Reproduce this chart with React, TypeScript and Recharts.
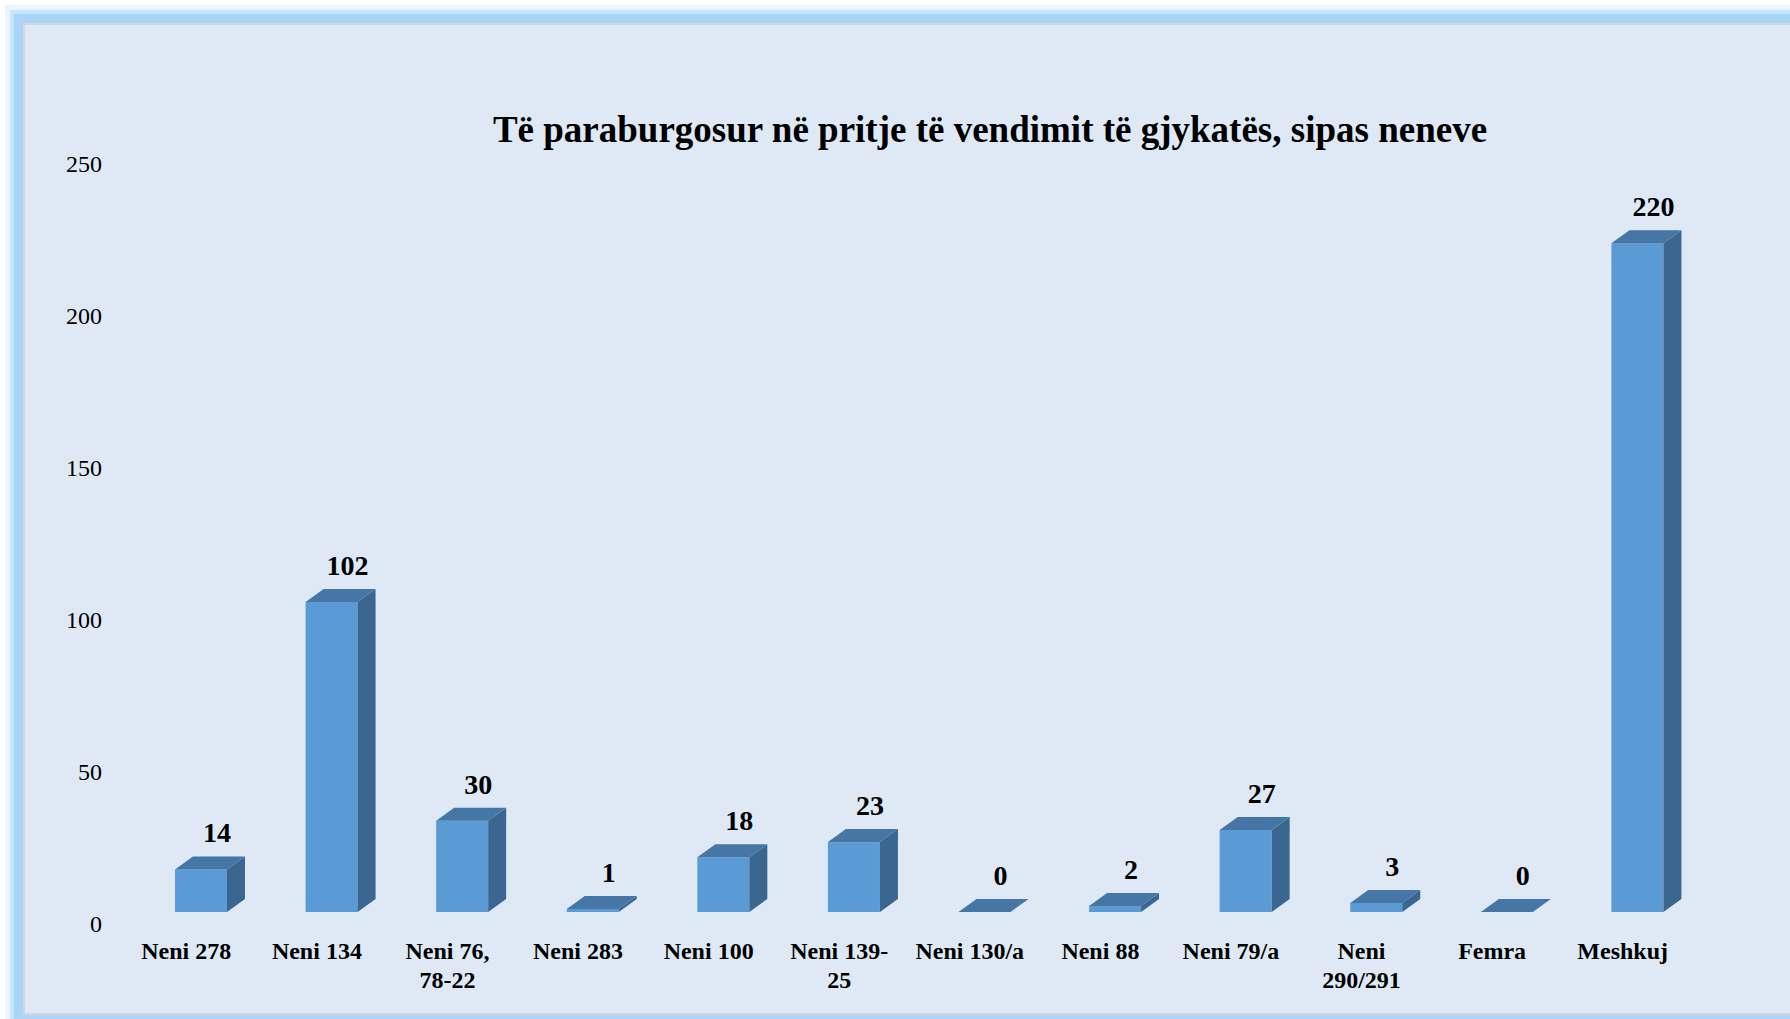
import React from 'react'
import { BarChart, Bar, XAxis, YAxis, LabelList } from 'recharts'

const categories = [
  'Neni 278',
  'Neni 134',
  'Neni 76,\n78-22',
  'Neni 283',
  'Neni 100',
  'Neni 139-\n25',
  'Neni 130/a',
  'Neni 88',
  'Neni 79/a',
  'Neni\n290/291',
  'Femra',
  'Meshkuj',
]
const values = [14, 102, 30, 1, 18, 23, 0, 2, 27, 3, 0, 220]
const yTicks = [0, 50, 100, 150, 200, 250]

const title = 'Të paraburgosur në pritje të vendimit të gjykatës, sipas neneve'

const data = categories.map((name, i) => ({ name, value: values[i] }))

const FONT = "'Liberation Serif', 'Times New Roman', serif"
const FRONT = '#5b9bd5'
const TOP = '#4576a6'
const SIDE = '#3a6690'
const DEPTH_X = 18
const DEPTH_Y = 13

// 3D-looking column: front face, top face and right side face
function Bar3D(props: any) {
  const { x, y, width, height } = props
  const fx = x + 15
  const h = Math.max(height || 0, 0)
  return (
    <g>
      {h > 0 && <rect x={fx} y={y} width={width} height={h} fill={FRONT} />}
      {h > 0 && (
        <polygon
          points={`${fx + width},${y} ${fx + width + DEPTH_X},${y - DEPTH_Y} ${fx + width + DEPTH_X},${y + h - DEPTH_Y} ${fx + width},${y + h}`}
          fill={SIDE}
        />
      )}
      <polygon
        points={`${fx},${y} ${fx + DEPTH_X},${y - DEPTH_Y} ${fx + width + DEPTH_X},${y - DEPTH_Y} ${fx + width},${y}`}
        fill={TOP}
      />
    </g>
  )
}

function ValueLabel(props: any) {
  const { x, y, width, value } = props
  return (
    <text
      x={x + width / 2 + 31}
      y={y - 27}
      textAnchor="middle"
      fontFamily={FONT}
      fontSize={28}
      fontWeight="bold"
      fill="#000"
    >
      {value}
    </text>
  )
}

function XTick(props: any) {
  const { x, y, payload } = props
  const lines = String(payload.value).split('\n')
  return (
    <text x={x} y={y} textAnchor="middle" fontFamily={FONT} fontSize={24} fontWeight="bold" fill="#000">
      {lines.map((l, i) => (
        <tspan key={i} x={x} dy={i === 0 ? 39 : 29}>
          {l}
        </tspan>
      ))}
    </text>
  )
}

function YTick(props: any) {
  const { x, y, payload } = props
  return (
    <text x={x} y={y} dy={20} textAnchor="end" fontFamily={FONT} fontSize={24} fill="#000">
      {payload.value}
    </text>
  )
}

export default function App() {
  return (
    <div style={{ position: 'absolute', left: 0, top: 0, width: 1790, height: 1019, overflow: 'hidden', background: '#fff' }}>
      {/* panel with glowing blue frame */}
      <div
        style={{
          position: 'absolute',
          left: 23,
          top: 23,
          width: 1800,
          height: 992,
          boxSizing: 'border-box',
          background: '#dee9f5',
          border: '2px solid #d3d6da',
          boxShadow: '0 0 0 9px #a9d5fb, 0 0 0 13px #c9e5fd, 0 0 0 18px #eaf5ff',
        }}
      />
      <div
        style={{
          position: 'absolute',
          left: 0,
          top: 111,
          width: 1980,
          textAlign: 'center',
          fontFamily: FONT,
          fontSize: 37,
          lineHeight: '37px',
          fontWeight: 'bold',
          color: '#000',
          whiteSpace: 'nowrap',
        }}
      >
        {title}
      </div>
      <div style={{ position: 'absolute', left: 0, top: 0 }}>
        <BarChart width={1790} height={1019} data={data} margin={{ top: 152, right: 102, bottom: 47, left: 61 }}>
          <XAxis dataKey="name" interval={0} axisLine={false} tickLine={false} height={60} tick={<XTick />} />
          <YAxis
            domain={[0, 250]}
            ticks={yTicks}
            width={60}
            axisLine={false}
            tickLine={false}
            tickSize={6}
            tickMargin={13}
            tick={<YTick />}
          />
          <Bar dataKey="value" barSize={52} shape={<Bar3D />} isAnimationActive={false}>
            <LabelList dataKey="value" content={<ValueLabel />} />
          </Bar>
        </BarChart>
      </div>
    </div>
  )
}
